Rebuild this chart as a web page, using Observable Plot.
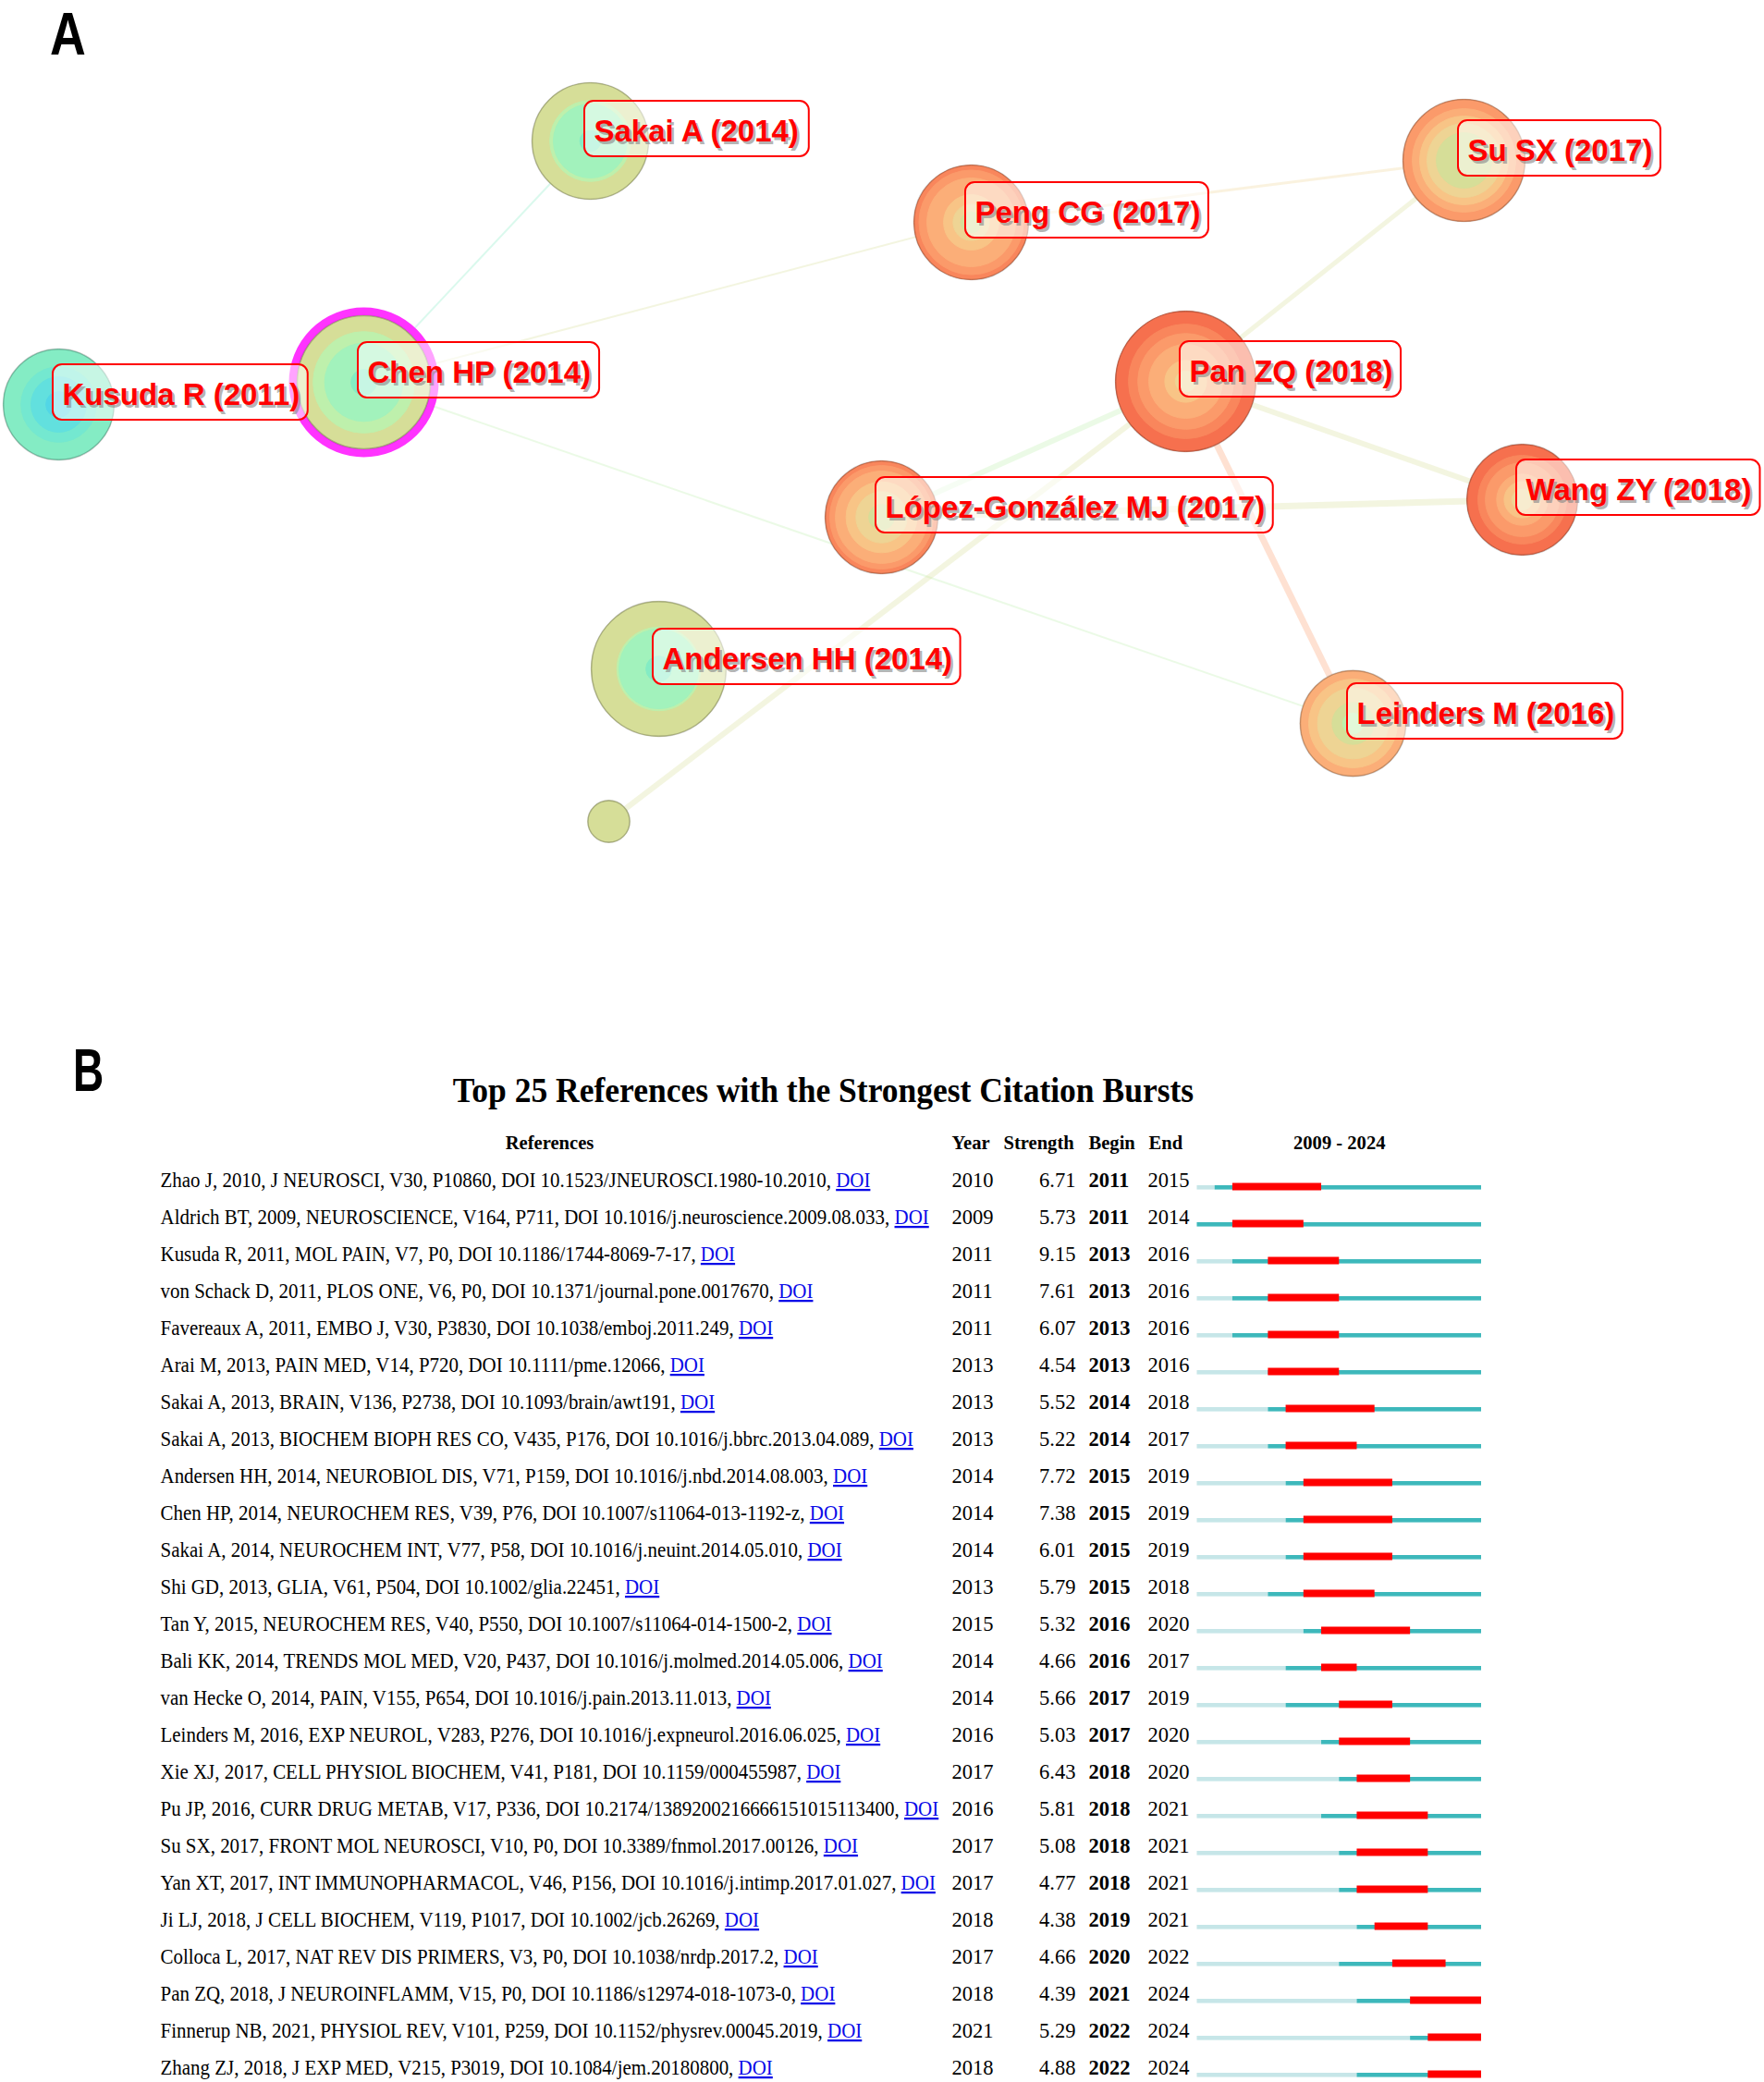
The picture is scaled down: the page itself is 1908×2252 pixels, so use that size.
<!DOCTYPE html>
<html>
<head>
<meta charset="utf-8">
<script src="https://cdn.jsdelivr.net/npm/d3@7"></script>
<script src="https://cdn.jsdelivr.net/npm/@observablehq/plot@0.6"></script>
<style>
  html, body { margin: 0; padding: 0; background: #fff; }
  #page { position: relative; width: 1908px; height: 2252px; overflow: hidden; background: #fff; }
  .panel { position: absolute; font-family: "Liberation Sans", Arial, sans-serif; font-weight: bold; font-size: 64px; line-height: normal; color: #000; transform-origin: left top; z-index: 5; }
  #chartA { position: absolute; left: 0; top: 0; }
  #chartB { position: absolute; left: 0; top: 1140px; }
</style>
</head>
<body>
<div id="page">
  <div id="chartA"></div>
  <div id="chartB"></div>
  <div class="panel" style="left:54px; top:0px; transform: scaleX(0.84);">A</div>
  <div class="panel" style="left:79px; top:1121px; transform: scaleX(0.72);">B</div>
</div>
<script>
// ---------------- Panel A: co-citation network ----------------
const nodeLabels = ["Kusuda R (2011)", "Chen HP (2014)", "Sakai A (2014)", "Andersen HH (2014)", "",
  "Peng CG (2017)", "Su SX (2017)", "Pan ZQ (2018)", "Wang ZY (2018)", "López-González MJ (2017)", "Leinders M (2016)"];
const nodeX = [63, 393, 638, 712, 658, 1050, 1583, 1282, 1646, 953, 1463];
const nodeY = [437, 413, 152, 723, 888, 240, 173, 412, 540, 559, 782];
const centrality = [0.02, 0.15, 0.03, 0.02, 0.0, 0.02, 0.03, 0.05, 0.01, 0.04, 0.02];
const citeStart = [2011, 2014, 2014, 2014, 2017, 2017, 2017, 2018, 2018, 2017, 2016];
const citeCounts = [
  [3, 11, 12, 30],
  [3, 25, 19, 34],
  [2, 23, 5, 32],
  [3, 26, 3, 51],
  [8],
  [2, 4, 8, 22, 14, 10],
  [14, 11, 11, 13, 19],
  [2, 6, 17, 17, 18, 30],
  [2, 4, 6, 13, 11, 20],
  [3, 9, 11, 16, 10, 9],
  [2, 6, 15, 13, 15]
];
const linkSource = [1, 1, 1, 5, 6, 7, 9, 7, 4, 7];
const linkTarget = [2, 5, 10, 6, 7, 8, 8, 9, 7, 10];
const linkYear   = [2014, 2017, 2016, 2018, 2017, 2017, 2017, 2016, 2017, 2021];
const linkWeight = [2, 2, 2, 3, 5, 6, 7, 6, 6, 7];

const years = d3.range(2011, 2025);
const palette = ["#52d6e6", "#62e0de", "#74e8d0", "#84ecc4", "#a2f2bc", "#bef0ac", "#d6de98",
  "#eed494", "#f8c486", "#fbae78", "#fb9a6a", "#f9865c", "#f6704e", "#f25e42"];

const nodes = nodeLabels.map((label, i) => ({
  label, x: nodeX[i], y: nodeY[i], centrality: centrality[i],
  total: d3.sum(citeCounts[i])
}));
const rings = [];
nodes.forEach((n, i) => {
  let cum = 0;
  citeCounts[i].forEach((c, k) => {
    cum += c;
    if (c > 0) rings.push({x: n.x, y: n.y, year: citeStart[i] + k, cum});
  });
});
const links = linkSource.map((s, i) => ({
  x1: nodes[s].x, y1: nodes[s].y, x2: nodes[linkTarget[i]].x, y2: nodes[linkTarget[i]].y,
  year: linkYear[i], weight: linkWeight[i]
}));

const labelFont = "bold 33px 'Liberation Sans'";
const ctx = document.createElement("canvas").getContext("2d");
ctx.font = labelFont;
const labelled = nodes.filter(n => n.label).map(n => ({...n, w: ctx.measureText(n.label).width}));

const plotA = Plot.plot({
  width: 1908, height: 1000,
  margin: 0,
  style: {fontFamily: "'Liberation Sans', Arial, sans-serif", background: "transparent"},
  x: {domain: [0, 1908], range: [0, 1908], axis: null},
  y: {domain: [0, 1000], range: [0, 1000], axis: null},
  r: {type: "sqrt", domain: [0, 100], range: [0, 80]},
  color: {type: "ordinal", domain: years, range: palette},
  marks: [
    Plot.link(links, {x1: "x1", y1: "y1", x2: "x2", y2: "y2", stroke: "year", strokeOpacity: 0.3, strokeWidth: "weight"}),
    Plot.dot(nodes.filter(n => n.centrality >= 0.1), {x: "x", y: "y", r: "total", fill: "none", stroke: "#ff33ff", strokeWidth: 18}),
    Plot.dot(rings, {x: "x", y: "y", r: "cum", fill: "year", stroke: "year", strokeWidth: 1}),
    Plot.dot(nodes, {x: "x", y: "y", r: "total", fill: "none", stroke: "#000", strokeOpacity: 0.22, strokeWidth: 1.6}),
    Plot.rect(labelled, {x1: d => d.x - 6, x2: d => d.x + d.w + 13, y1: d => d.y - 43, y2: d => d.y + 17,
      rx: 10, fill: "#fff", fillOpacity: 0.55, stroke: "#ff0000", strokeWidth: 2}),
    Plot.text(labelled, {x: "x", y: "y", text: "label", dx: 6.5, dy: -7.5, textAnchor: "start",
      fontSize: 33, fontWeight: "bold", fill: "#8a8a8a", fillOpacity: 0.65}),
    Plot.text(labelled, {x: "x", y: "y", text: "label", dx: 4, dy: -10, textAnchor: "start",
      fontSize: 33, fontWeight: "bold", fill: "#ff0000"})
  ]
});
document.getElementById("chartA").appendChild(plotA);

// ---------------- Panel B: citation bursts ----------------
const refs = [
  "Zhao J, 2010, J NEUROSCI, V30, P10860, DOI 10.1523/JNEUROSCI.1980-10.2010",
  "Aldrich BT, 2009, NEUROSCIENCE, V164, P711, DOI 10.1016/j.neuroscience.2009.08.033",
  "Kusuda R, 2011, MOL PAIN, V7, P0, DOI 10.1186/1744-8069-7-17",
  "von Schack D, 2011, PLOS ONE, V6, P0, DOI 10.1371/journal.pone.0017670",
  "Favereaux A, 2011, EMBO J, V30, P3830, DOI 10.1038/emboj.2011.249",
  "Arai M, 2013, PAIN MED, V14, P720, DOI 10.1111/pme.12066",
  "Sakai A, 2013, BRAIN, V136, P2738, DOI 10.1093/brain/awt191",
  "Sakai A, 2013, BIOCHEM BIOPH RES CO, V435, P176, DOI 10.1016/j.bbrc.2013.04.089",
  "Andersen HH, 2014, NEUROBIOL DIS, V71, P159, DOI 10.1016/j.nbd.2014.08.003",
  "Chen HP, 2014, NEUROCHEM RES, V39, P76, DOI 10.1007/s11064-013-1192-z",
  "Sakai A, 2014, NEUROCHEM INT, V77, P58, DOI 10.1016/j.neuint.2014.05.010",
  "Shi GD, 2013, GLIA, V61, P504, DOI 10.1002/glia.22451",
  "Tan Y, 2015, NEUROCHEM RES, V40, P550, DOI 10.1007/s11064-014-1500-2",
  "Bali KK, 2014, TRENDS MOL MED, V20, P437, DOI 10.1016/j.molmed.2014.05.006",
  "van Hecke O, 2014, PAIN, V155, P654, DOI 10.1016/j.pain.2013.11.013",
  "Leinders M, 2016, EXP NEUROL, V283, P276, DOI 10.1016/j.expneurol.2016.06.025",
  "Xie XJ, 2017, CELL PHYSIOL BIOCHEM, V41, P181, DOI 10.1159/000455987",
  "Pu JP, 2016, CURR DRUG METAB, V17, P336, DOI 10.2174/1389200216666151015113400",
  "Su SX, 2017, FRONT MOL NEUROSCI, V10, P0, DOI 10.3389/fnmol.2017.00126",
  "Yan XT, 2017, INT IMMUNOPHARMACOL, V46, P156, DOI 10.1016/j.intimp.2017.01.027",
  "Ji LJ, 2018, J CELL BIOCHEM, V119, P1017, DOI 10.1002/jcb.26269",
  "Colloca L, 2017, NAT REV DIS PRIMERS, V3, P0, DOI 10.1038/nrdp.2017.2",
  "Pan ZQ, 2018, J NEUROINFLAMM, V15, P0, DOI 10.1186/s12974-018-1073-0",
  "Finnerup NB, 2021, PHYSIOL REV, V101, P259, DOI 10.1152/physrev.00045.2019",
  "Zhang ZJ, 2018, J EXP MED, V215, P3019, DOI 10.1084/jem.20180800"
];
const pubYear = [2010, 2009, 2011, 2011, 2011, 2013, 2013, 2013, 2014, 2014, 2014, 2013, 2015, 2014, 2014, 2016, 2017, 2016, 2017, 2017, 2018, 2017, 2018, 2021, 2018];
const strength = [6.71, 5.73, 9.15, 7.61, 6.07, 4.54, 5.52, 5.22, 7.72, 7.38, 6.01, 5.79, 5.32, 4.66, 5.66, 5.03, 6.43, 5.81, 5.08, 4.77, 4.38, 4.66, 4.39, 5.29, 4.88];
const burstBegin = [2011, 2011, 2013, 2013, 2013, 2013, 2014, 2014, 2015, 2015, 2015, 2015, 2016, 2016, 2017, 2017, 2018, 2018, 2018, 2018, 2019, 2020, 2021, 2022, 2022];
const burstEnd = [2015, 2014, 2016, 2016, 2016, 2016, 2018, 2017, 2019, 2019, 2019, 2018, 2020, 2017, 2019, 2020, 2020, 2021, 2021, 2021, 2021, 2022, 2024, 2024, 2024];
const firstYear = 2009, lastYear = 2024;
const title = "Top 25 References with the Strongest Citation Bursts";
const headers = ["References", "Year", "Strength", "Begin", "End"];

const rows = refs.map((ref, i) => ({
  key: String(i), ref, year: pubYear[i], s: strength[i], b: burstBegin[i], e: burstEnd[i]
}));
const yDomain = ["H", ...rows.map(d => d.key)];
const H = [{key: "H"}];
const rowFont = 23, headFont = 21;

const plotB = Plot.plot({
  width: 1908, height: 1112,
  margin: 0,
  style: {fontFamily: "'Liberation Serif', 'Times New Roman', serif", background: "transparent", color: "#000"},
  x: {domain: [firstYear, lastYear + 1], range: [1294.5, 1602], axis: null},
  y: {type: "band", domain: yDomain, range: [75.46, 1117.5], padding: 0, axis: null},
  marks: [
    // title
    Plot.text([title], {frameAnchor: "top-left", dx: 890, dy: 39, lineAnchor: "middle", textAnchor: "middle",
      fontSize: 38, fontWeight: "bold"}),
    // headers
    Plot.text(H, {y: "key", text: () => headers[0], frameAnchor: "left", dx: 594, textAnchor: "middle", fontSize: headFont, fontWeight: "bold"}),
    Plot.text(H, {y: "key", text: () => headers[1], frameAnchor: "left", dx: 1029, textAnchor: "start", fontSize: headFont, fontWeight: "bold"}),
    Plot.text(H, {y: "key", text: () => headers[2], frameAnchor: "left", dx: 1085, textAnchor: "start", fontSize: headFont, fontWeight: "bold"}),
    Plot.text(H, {y: "key", text: () => headers[3], frameAnchor: "left", dx: 1177, textAnchor: "start", fontSize: headFont, fontWeight: "bold"}),
    Plot.text(H, {y: "key", text: () => headers[4], frameAnchor: "left", dx: 1242, textAnchor: "start", fontSize: headFont, fontWeight: "bold"}),
    Plot.text(H, {y: "key", x: () => (firstYear + lastYear + 1) / 2, text: () => `${firstYear} - ${lastYear}`,
      textAnchor: "middle", fontSize: headFont, fontWeight: "bold"}),
    // columns
    Plot.text(rows, {y: "key", text: d => d.ref + ", DOI", frameAnchor: "left", dx: 173, textAnchor: "start", fontSize: rowFont}),
    Plot.text(rows, {y: "key", text: d => String(d.year), frameAnchor: "left", dx: 1029, textAnchor: "start", fontSize: rowFont}),
    Plot.text(rows, {y: "key", text: d => d.s.toFixed(2), frameAnchor: "left", dx: 1163, textAnchor: "end", fontSize: rowFont}),
    Plot.text(rows, {y: "key", text: d => String(d.b), frameAnchor: "left", dx: 1177, textAnchor: "start", fontSize: rowFont, fontWeight: "bold"}),
    Plot.text(rows, {y: "key", text: d => String(d.e), frameAnchor: "left", dx: 1241, textAnchor: "start", fontSize: rowFont}),
    // timeline bars
    Plot.barX(rows.filter(d => d.year > firstYear), {y: "key", x1: () => firstYear, x2: "year", fill: "#c6e6e8", insetTop: 26, insetBottom: 9.4}),
    Plot.barX(rows, {y: "key", x1: "year", x2: () => lastYear + 1, fill: "#3db8bb", insetTop: 26, insetBottom: 9.4}),
    Plot.barX(rows, {y: "key", x1: "b", x2: d => d.e + 1, fill: "#ff0000", insetTop: 23.5, insetBottom: 8.5})
  ]
});
document.getElementById("chartB").appendChild(plotB);

// DOI links styled as blue underlined text
const SVGNS = "http://www.w3.org/2000/svg";
plotB.querySelectorAll("text").forEach(t => {
  const s = t.textContent;
  if (s.endsWith(", DOI") && !t.querySelector("tspan")) {
    t.textContent = s.slice(0, -3);
    const ts = document.createElementNS(SVGNS, "tspan");
    ts.textContent = "DOI";
    ts.setAttribute("fill", "#0a0ae8");
    ts.setAttribute("text-decoration", "underline");
    ts.style.textDecoration = "underline";
    t.appendChild(ts);
    t.dataset.squash = "0.911";
  } else if (s === title) {
    t.dataset.squash = "0.935";
  } else {
    t.dataset.squash = "0.98";
  }
});
// the source table uses a horizontally condensed serif face: scale each text about its anchor
plotB.querySelectorAll("text").forEach(t => {
  const k = +t.dataset.squash;
  const x = +(t.getAttribute("x") || 0);
  if (t.hasAttribute("x")) t.setAttribute("x", (x / k).toFixed(2));
  const tr = t.getAttribute("transform") || "";
  t.setAttribute("transform", `${tr} scale(${k},1)`.trim());
});
</script>
</body>
</html>
